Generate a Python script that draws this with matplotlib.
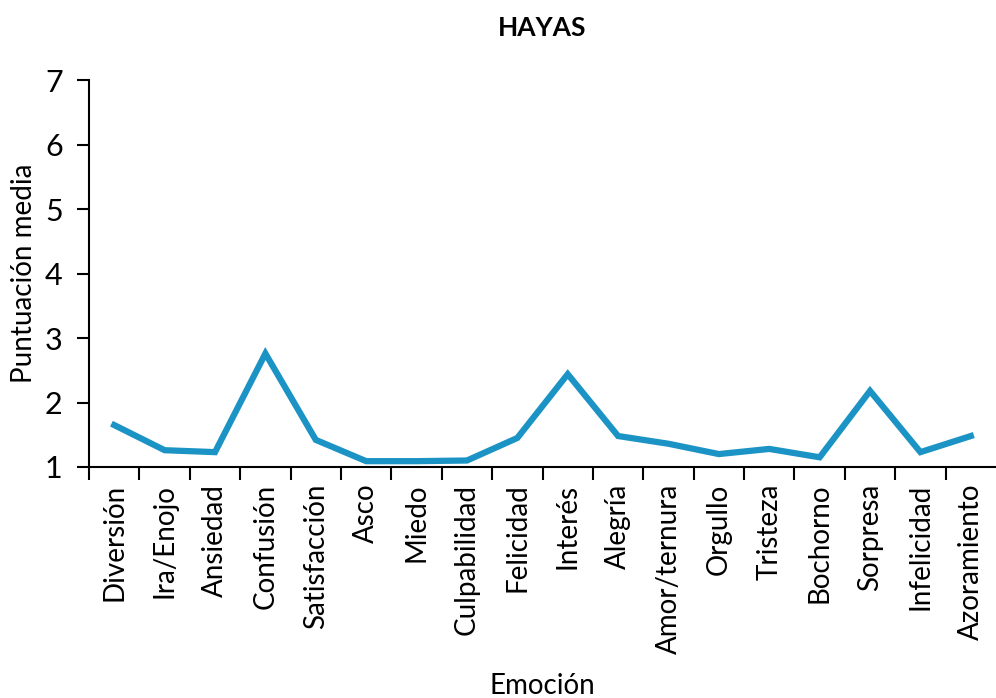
import matplotlib.pyplot as plt

plt.rcParams['font.family'] = ['Lato', 'DejaVu Sans']

emociones = ['Diversión', 'Ira/Enojo', 'Ansiedad', 'Confusión', 'Satisfacción', 'Asco',
             'Miedo', 'Culpabilidad', 'Felicidad', 'Interés', 'Alegría', 'Amor/ternura',
             'Orgullo', 'Tristeza', 'Bochorno', 'Sorpresa', 'Infelicidad', 'Azoramiento']
puntuacion = [1.65, 1.26, 1.23, 2.76, 1.42, 1.09, 1.09, 1.10, 1.45, 2.44, 1.48, 1.36,
              1.20, 1.28, 1.15, 2.18, 1.23, 1.48]


def visualise():
    fig = plt.figure(figsize=(9.96, 6.98), dpi=100)
    ax = fig.add_axes([0.0894, 0.331, 0.9106, 0.554])
    x = list(range(len(emociones)))
    ax.plot(x, puntuacion, color='#1B93C4', linewidth=4.5, solid_joinstyle='miter')

    ax.set_xlim(-0.5, len(emociones) - 0.5)
    ax.set_ylim(1, 7)
    ax.set_yticks(range(1, 8))
    ax.set_xticks([i - 0.5 for i in range(len(emociones))])
    ax.set_xticklabels([])
    ax.set_xticks(x, minor=True)
    ax.set_xticklabels(emociones, minor=True, rotation=90, fontsize=20)
    ax.tick_params(axis='x', which='minor', length=0, pad=12)
    ax.tick_params(axis='x', which='major', length=9, width=1.5, direction='out')
    ax.tick_params(axis='y', length=9, width=1.5, direction='out', labelsize=22, pad=10)

    for side in ['top', 'right']:
        ax.spines[side].set_visible(False)
    for side in ['left', 'bottom']:
        ax.spines[side].set_linewidth(1.5)

    ax.set_title('HAYAS', fontsize=19, fontweight='bold', pad=32)
    ax.set_xlabel('Emoción', fontsize=20, labelpad=14)
    ax.set_ylabel('Puntuación media', fontsize=20, labelpad=6)
    fig.savefig('out.png', dpi=100)


if __name__ == "__main__":
    visualise()
